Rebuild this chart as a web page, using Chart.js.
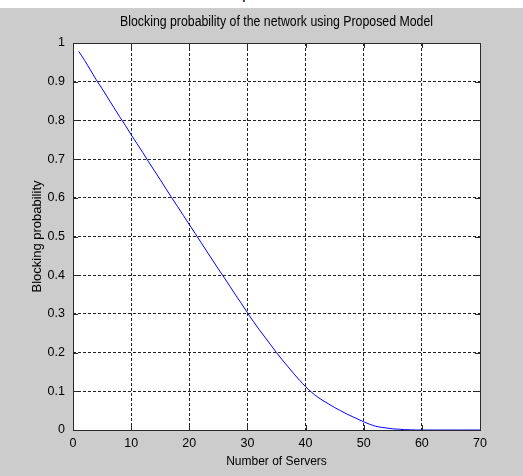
<!DOCTYPE html>
<html>
<head>
<meta charset="utf-8">
<script src="https://cdn.jsdelivr.net/npm/chart.js@4.4.1/dist/chart.umd.min.js"></script>
<style>
  html, body { margin: 0; padding: 0; background: #fff; }
  #wrap {
    position: relative; width: 523px; height: 476px;
    background: linear-gradient(#ffffff 0, #ffffff 8px, #cccccc 8px);
  }
  #cut {
    position: absolute; left: 0; top: 0; width: 523px; height: 8px; overflow: hidden;
  }
  #cut span {
    position: absolute; left: 170px; top: -15px; white-space: nowrap;
    font: 16px "Liberation Sans", Arial, sans-serif; color: #000; letter-spacing: 1px;
  }
  canvas { position: absolute; left: 0; top: 0; }
</style>
</head>
<body>
<div id="wrap">
  <div id="cut"><span>ner and queue</span></div>
  <canvas id="chart" width="523" height="476"></canvas>
</div>
<script>
// number of servers vs blocking probability
const servers = [1, 2, 3, 4, 5, 6, 7, 8, 9, 10,
  11, 12, 13, 14, 15, 16, 17, 18, 19, 20,
  21, 22, 23, 24, 25, 26, 27, 28, 29, 30,
  31, 32, 33, 34, 35, 36, 37, 38, 39, 40,
  41, 42, 43, 44, 45, 46, 47, 48, 49, 50,
  51, 52, 53, 54, 55, 56, 57, 58, 59, 60,
  61, 62, 63, 64, 65, 66, 67, 68, 69, 70];
const blockingProb = [0.978, 0.955, 0.930, 0.905, 0.882, 0.858, 0.834, 0.810, 0.787, 0.763,
  0.740, 0.717, 0.693, 0.670, 0.647, 0.623, 0.600, 0.577, 0.554, 0.531,
  0.508, 0.485, 0.462, 0.439, 0.416, 0.394, 0.371, 0.348, 0.326, 0.303,
  0.281, 0.260, 0.240, 0.220, 0.200, 0.181, 0.163, 0.145, 0.128, 0.112,
  0.098, 0.086, 0.076, 0.067, 0.058, 0.050, 0.042, 0.035, 0.028, 0.021,
  0.015, 0.010, 0.007, 0.005, 0.003, 0.002, 0.001, 0.0005, 0, 0,
  0, 0, 0, 0, 0, 0, 0, 0, 0, 0];

const xTicks = [0, 10, 20, 30, 40, 50, 60, 70];
const yTicks = [0, 0.1, 0.2, 0.3, 0.4, 0.5, 0.6, 0.7, 0.8, 0.9, 1];
const titleText = 'Blocking probability of the network using Proposed Model';

const fontFam = '"Liberation Sans", Arial, sans-serif';

// white plot area, solid box, inward ticks and title centred on the axes
const axesBox = {
  id: 'axesBox',
  beforeDraw(chart) {
    const { ctx, chartArea: a } = chart;
    ctx.save();
    ctx.fillStyle = '#ffffff';
    ctx.fillRect(a.left, a.top, a.right - a.left, a.bottom - a.top);
    ctx.restore();
  },
  afterDraw(chart) {
    const { ctx, chartArea: a, scales } = chart;
    ctx.save();
    ctx.strokeStyle = '#2a2a2a';
    ctx.lineWidth = 1;
    ctx.beginPath();
    xTicks.forEach(v => {
      const x = Math.round(scales.x.getPixelForValue(v)) + 0.5;
      ctx.moveTo(x, a.bottom); ctx.lineTo(x, a.bottom - 5);
      ctx.moveTo(x, a.top); ctx.lineTo(x, a.top + 5);
    });
    yTicks.forEach(v => {
      const y = Math.round(scales.y.getPixelForValue(v)) + 0.5;
      ctx.moveTo(a.left, y); ctx.lineTo(a.left + 5, y);
      ctx.moveTo(a.right, y); ctx.lineTo(a.right - 5, y);
    });
    ctx.stroke();
    ctx.strokeRect(Math.round(a.left) + 0.5, Math.round(a.top) + 0.5,
      Math.round(a.right - a.left), Math.round(a.bottom - a.top));

    // matlab title font is narrow: squeeze a taller font sideways
    ctx.fillStyle = '#000';
    ctx.font = '14px ' + fontFam;
    ctx.textAlign = 'center';
    ctx.textBaseline = 'middle';
    ctx.translate((a.left + a.right) / 2, 22);
    ctx.scale(0.88, 1);
    ctx.fillText(titleText, 0, 0);
    ctx.restore();
  }
};

new Chart(document.getElementById('chart'), {
  type: 'line',
  data: {
    datasets: [{
      data: servers.map((s, i) => ({ x: s, y: blockingProb[i] })),
      borderColor: '#0000ff',
      borderWidth: 1,
      pointRadius: 0,
      cubicInterpolationMode: 'monotone',
      fill: false
    }]
  },
  options: {
    responsive: false,
    animation: false,
    layout: { padding: { left: 0, right: 43, top: 43, bottom: 0 } },
    plugins: {
      legend: { display: false },
      tooltip: { enabled: false },
      title: { display: false }
    },
    scales: {
      x: {
        type: 'linear',
        min: 0, max: 70,
        afterBuildTicks: s => { s.ticks = xTicks.map(v => ({ value: v })); },
        afterFit: s => { s.height = 46; },
        grid: { color: '#222', lineWidth: 1, drawTicks: false },
        border: { display: false, dash: [3, 2] },
        ticks: { color: '#000', padding: 6, font: { family: fontFam, size: 12.5 } },
        title: {
          display: true, text: 'Number of Servers', color: '#000',
          font: { family: fontFam, size: 12 }, padding: { top: 0, bottom: 7 }
        }
      },
      y: {
        min: 0, max: 1,
        afterBuildTicks: s => { s.ticks = yTicks.map(v => ({ value: v })); },
        afterFit: s => { s.width = 73; },
        grid: { color: '#222', lineWidth: 1, drawTicks: false },
        border: { display: false, dash: [3, 2] },
        ticks: {
          color: '#000', padding: 8, font: { family: fontFam, size: 12.5 },
          callback: v => String(Math.round(v * 10) / 10)
        },
        title: {
          display: true, text: 'Blocking probability', color: '#000',
          font: { family: fontFam, size: 13 }, padding: { top: 30, bottom: 0 }
        }
      }
    }
  },
  plugins: [axesBox]
});
</script>
</body>
</html>
